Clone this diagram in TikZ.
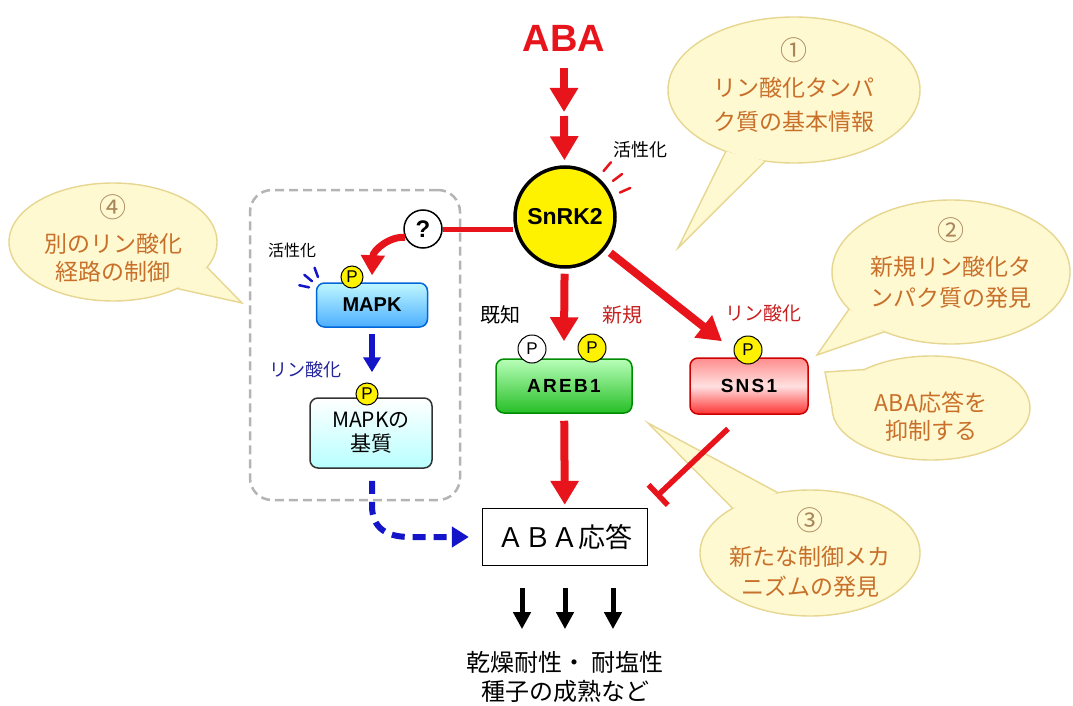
\documentclass[tikz,border=0pt]{standalone}
\usepackage{fontspec}
\setmainfont{Liberation Sans}
\newfontfamily\jp{Noto Sans CJK JP}
\newfontfamily\lat{Liberation Sans}
\usetikzlibrary{arrows.meta,shapes.geometric,calc}
\definecolor{abared}{HTML}{E8141C}
\definecolor{txtred}{HTML}{C82020}
\definecolor{bubfill}{HTML}{FFF9D2}
\definecolor{bubline}{HTML}{E6D690}
\definecolor{bubtext}{HTML}{C8702A}
\definecolor{bubnum}{HTML}{A8865A}
\definecolor{pyellow}{HTML}{FFF200}
\definecolor{arrblue}{HTML}{1414C8}
\definecolor{txtblue}{HTML}{23239A}
\definecolor{grpgray}{HTML}{B4B4B4}
\begin{document}
\begin{tikzpicture}[x=1pt,y=-1pt,
  redarrow/.style={draw=abared, line width=8pt, -{Triangle[width=27pt,length=24pt]}},
  redarrowsm/.style={draw=abared, line width=7pt, -{Triangle[width=23pt,length=20pt]}},
  redline/.style={draw=abared, line width=5pt},
  redinh/.style={draw=abared, line width=5.5pt, -{Bar[width=28pt]}},
  bluearrow/.style={draw=arrblue, line width=6pt, -{Triangle[width=17pt,length=15pt]}},
  bluedash/.style={draw=arrblue, line width=6pt, dash pattern=on 13pt off 8pt, -{Triangle[width=20pt,length=17pt]}},
  blackarrow/.style={draw=black, line width=5pt, -{Triangle[width=17pt,length=17pt]}},
  bubble/.style={ellipse, fill=bubfill, draw=bubline, line width=1.4pt, inner sep=0pt, outer sep=0pt},
  tail/.style={fill=bubfill, draw=bubline, line width=1.4pt, line join=miter},
  bubtxt/.style={text=bubtext, font=\jp\fontsize{23}{#1}\selectfont, align=center, inner sep=0pt},
  bubtxt/.default=32,
  bubnumst/.style={text=bubnum, font=\jp\fontsize{27}{27}\selectfont, inner sep=0pt},
  pcirc/.style={circle, draw=black, line width=1pt, fill=pyellow, minimum size=#1, inner sep=0pt, font=\lat\fontsize{17}{17}\selectfont},
  pcirc/.default=26pt,
  lbl/.style={font=\jp\fontsize{#1}{#1}\selectfont, inner sep=0pt},
  genebox/.style={rounded corners=8pt, line width=1.5pt, inner sep=0pt},
  tick/.style={line width=2.5pt, line cap=round}
]
\useasboundingbox (0,0) rectangle (1073,706);

% ---------- speech bubbles ----------
\node[bubble, minimum width=252pt, minimum height=146pt] (b1) at (794,90) {};
\coordinate (b1tip) at (678,248);
\path[tail] (b1.222) -- (b1tip) -- (b1.248);
\node[bubnumst] (b1n) at (794,50) {①};
\node[bubtxt=34] (b1t) at (794,105) {リン酸化タンパ\\ク質の基本情報};

\node[bubble, minimum width=238pt, minimum height=144pt] (b2) at (951,272) {};
\coordinate (b2tip) at (817,355);
\path[tail] (b2.200) -- (b2tip) -- (b2.222);
\node[bubnumst] (b2n) at (951,230) {②};
\node[bubtxt=31] (b2t) at (951,282) {新規リン酸化タ\\ンパク質の発見};

\node[bubble, minimum width=198pt, minimum height=104pt] (b5) at (931,408) {};
\coordinate (b5tip) at (825,372);
\path[tail] (b5.150) -- (b5tip) -- (b5.180);
\node[bubtxt=28] (b5t) at (931,417) {ABA応答を\\抑制する};

\node[bubble, minimum width=220pt, minimum height=126pt] (b3) at (810,553) {};
\coordinate (b3tip) at (648,423);
\path[tail] (b3.118) -- (b3tip) -- (b3.150);
\node[bubnumst] (b3n) at (810,520) {③};
\node[bubtxt=30] (b3t) at (810,572) {新たな制御メカ\\ニズムの発見};

\node[bubble, minimum width=208pt, minimum height=118pt] (b4) at (113,242) {};
\coordinate (b4tip) at (242,303);
\path[tail] (b4.-15) -- (b4tip) -- (b4.-36);
\node[bubnumst] (b4n) at (113,207) {④};
\node[bubtxt=28] (b4t) at (113,258) {別のリン酸化\\経路の制御};

% ---------- MAPK group ----------
\node[draw=grpgray, line width=2.5pt, dash pattern=on 9pt off 5pt, rounded corners=22pt,
      minimum width=210pt, minimum height=310pt] (grp) at (355,345) {};

% ---------- main nodes ----------
\node[text=abared, font=\lat\bfseries\fontsize{38}{38}\selectfont, inner sep=0pt] (aba) at (564,38) {ABA};
\node[circle, fill=pyellow, draw=black, line width=3.5pt, minimum size=100pt, inner sep=0pt,
      font=\lat\bfseries\fontsize{23}{23}\selectfont] (snrk) at (565,217) {SnRK2};
\node[circle, fill=white, draw=black, line width=1.5pt, minimum size=38pt, inner sep=0pt,
      font=\lat\bfseries\fontsize{24}{24}\selectfont] (q) at (423,229) {?};

\node[genebox, draw=black!25!blue!60!cyan, top color=blue!12!cyan!25, bottom color=blue!45!cyan!70,
      minimum width=111pt, minimum height=44pt, font=\lat\bfseries\fontsize{20}{20}\selectfont] (mapk) at (372,305) {MAPK};
\node[genebox, draw=black!80, top color=white, bottom color=cyan!28,
      minimum width=122pt, minimum height=70pt, align=center,
      font=\jp\fontsize{21}{24}\selectfont] (sub) at (371,433) {MAPKの\\基質};

\node[genebox, draw=green!55!black, top color=green!28, bottom color=green!70!black!85!white,
      minimum width=136pt, minimum height=54pt,
      font=\lat\bfseries\fontsize{19}{19}\selectfont\addfontfeature{LetterSpace=12}] (areb) at (564,386) {AREB1};
\node[genebox, draw=red!80!black, top color=red!45, bottom color=red!80, middle color=red!12,
      minimum width=118pt, minimum height=56pt,
      font=\lat\bfseries\fontsize{19}{19}\selectfont\addfontfeature{LetterSpace=12}] (sns) at (749,386) {SNS1};

\node[draw=black, line width=1.3pt, minimum width=165pt, minimum height=57pt, inner sep=0pt,
      font=\jp\fontsize{27}{27}\selectfont] (resp) at (565,537) {ＡＢＡ応答};
\node[align=center, inner sep=0pt, font=\jp\fontsize{24}{29}\selectfont] (out) at (565,677) {乾燥耐性・ 耐塩性\\種子の成熟など};

% P circles
\node[pcirc=22pt] (pm) at (352,277) {P};
\node[pcirc=22pt] (ps) at (367,394) {P};
\node[pcirc=28pt, fill=white] (pa1) at (532,349) {P};
\node[pcirc=28pt] (pa2) at (592,348) {P};
\node[pcirc=28pt] (pn) at (748,350) {P};

% labels
\node[lbl=18] (act1) at (640,150) {活性化};
\node[lbl=16] (act2) at (292,250) {活性化};
\node[lbl=18, text=txtblue] (ph1) at (305,370) {リン酸化};
\node[lbl=20] (known) at (500,315) {既知};
\node[lbl=20, text=txtred] (new) at (622,315) {新規};
\node[lbl=19, text=txtred] (ph2) at (763,313) {リン酸化};

% ---------- connectors ----------
\coordinate (a1s) at (564,68);
\coordinate (a1e) at (564,112);
\coordinate (a2s) at (564,116);
\draw[redarrow] (a1s) -- (a1e);
\draw[redarrow, shorten >=5pt] (a2s) -- (snrk);

\draw[redline] (q.east) -- (q.east -| snrk.west);
\draw[redarrowsm] (q.205) .. controls (390,236) and (373,250) .. ([yshift=7pt]mapk.north);

\draw[redarrow, shorten <=5pt] (snrk) -- ([yshift=17pt]areb.north);
\draw[redarrow, shorten <=6pt] (snrk) -- ([xshift=-27pt,yshift=16pt]sns.north);
\draw[redarrow, shorten <=7pt, shorten >=3pt] (areb) -- (resp);
\draw[redinh] ([xshift=-21pt,yshift=-14pt]sns.south) -- ([xshift=8pt,yshift=11pt]resp.north east);

\draw[bluearrow, shorten <=6pt] (mapk.south) -- ([yshift=25pt]sub.north -| mapk.south);
\draw[bluedash] ([xshift=1pt,yshift=-12pt]sub.south) -- ++(0,25) .. controls +(0,22) and (386,537) .. (410,537) -- ([xshift=-13pt]resp.west);

\foreach \dx in {-43,0,48}
  \draw[blackarrow] ([xshift=\dx pt,yshift=-22pt]resp.south) -- ([xshift=\dx pt,yshift=-63pt]resp.south);

% activation ticks
\foreach \a in {50,37,24}
  \draw[tick, abared] ($(snrk.center)!1.16!(snrk.\a)$) -- ($(snrk.center)!1.38!(snrk.\a)$);
\coordinate (tc) at ([xshift=7pt,yshift=-8pt]mapk.north west);
\foreach \a in {110,140,168}
  \draw[tick, arrblue] ($(tc)+(\a:14pt)$) -- ($(tc)+(\a:24pt)$);
\end{tikzpicture}
\end{document}
